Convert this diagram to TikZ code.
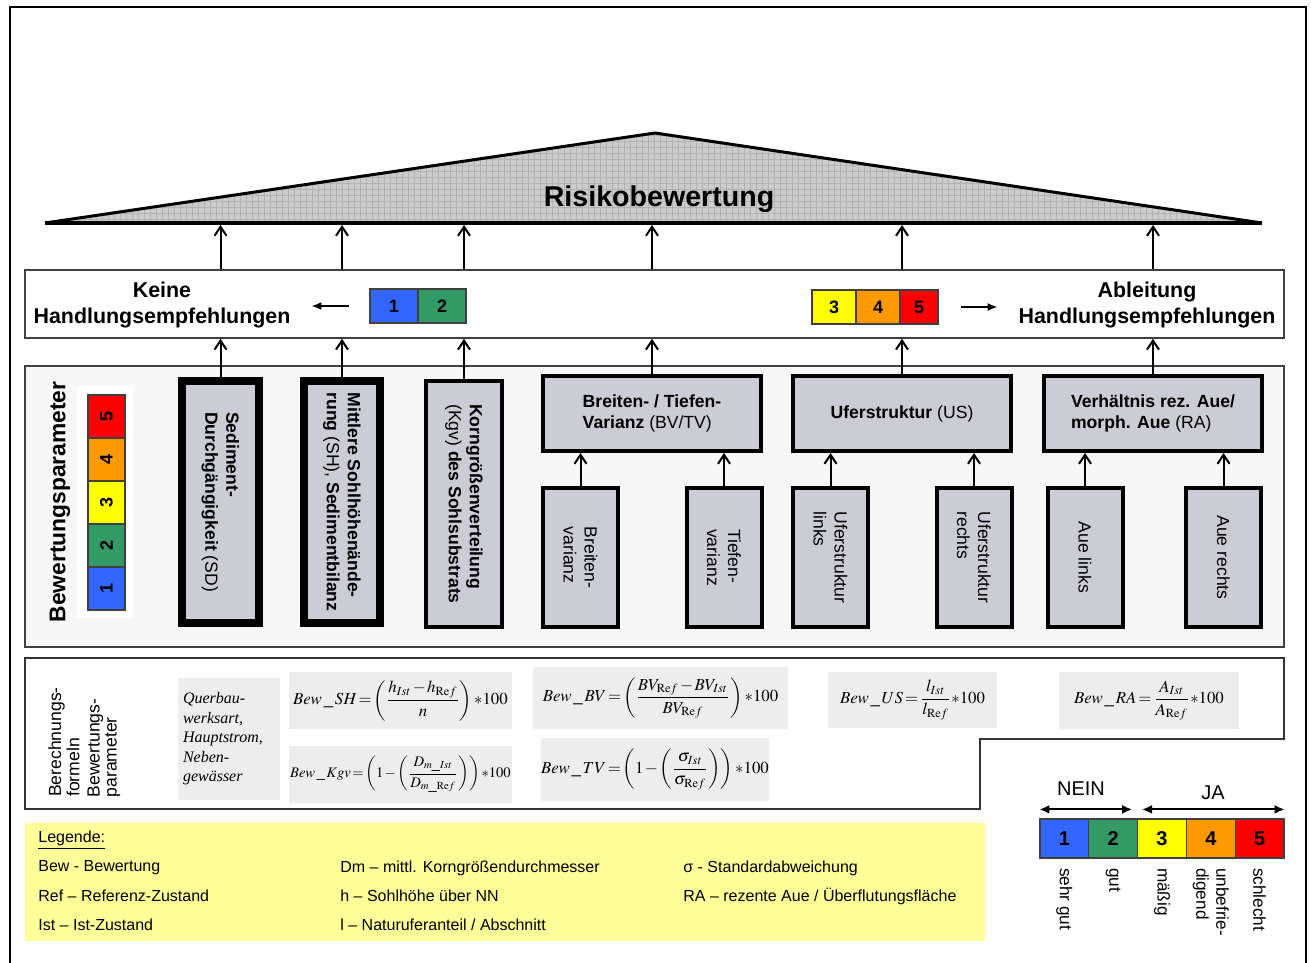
\documentclass[tikz,border=0pt]{standalone}
\usepackage{mathptmx}
\usepackage[no-math]{fontspec}
\setmainfont{Liberation Sans}
\newfontfamily\timesfont{Liberation Serif}
\usetikzlibrary{arrows.meta,patterns}

\definecolor{bwblue}{RGB}{51,102,255}
\definecolor{bwgreen}{RGB}{51,153,102}
\definecolor{bwyellow}{RGB}{255,255,0}
\definecolor{bworange}{RGB}{255,153,0}
\definecolor{bwred}{RGB}{255,0,0}
\definecolor{boxgray}{RGB}{204,204,212}
\definecolor{panelgray}{RGB}{247,247,247}
\definecolor{formgray}{RGB}{237,237,237}
\definecolor{legyellow}{RGB}{255,255,153}

\newcommand\tightmath{\thickmuskip=2mu\relax\medmuskip=1.5mu\relax}

\begin{document}
\begin{tikzpicture}[x=0.5pt,y=-0.5pt,
  pbox/.style={draw,fill=boxgray,line width=2pt,inner sep=0pt,font=\fontsize{8.8}{10.5}\selectfont},
  vtext/.style={rotate=-90,align=left,inner sep=0pt,font=\fontsize{8.8}{10.5}\selectfont},
  colcell/.style={draw=black!75,line width=.6pt,inner sep=0pt,font=\bfseries\fontsize{9}{9}\selectfont},
  formbox/.style={fill=formgray,inner sep=0pt,font=\fontsize{8.4}{10}\selectfont},
  leg/.style={anchor=west,inner sep=0pt,font=\fontsize{8}{9.6}\selectfont},
  uparrow/.style={-{Straight Barb[length=4.5pt,width=6pt]},line width=1pt},
  sidearrow/.style={-{Latex[length=5pt,width=4pt]},line width=.8pt},
  twoway/.style={{Latex[length=5pt,width=4.5pt]}-{Latex[length=5pt,width=4.5pt]},line width=1pt},
]
\useasboundingbox (0,0) rectangle (1311,963);

% frame
\draw[line width=1.3pt] (10,963) -- (10,7) -- (1306,7) -- (1306,963);

% roof
\coordinate (tl) at (45,223);
\coordinate (tt) at (655,133);
\coordinate (tr) at (1262,223);
\fill[black!20] (tl) -- (tt) -- (tr) -- cycle;
\fill[pattern=grid,pattern color=black!30] (tl) -- (tt) -- (tr) -- cycle;
\draw[line width=1.5pt,line join=round] (tl) -- (tt) -- (tr);
\draw[line width=2pt] (tl) -- (tr);
\node[font=\bfseries\fontsize{14.3}{16}\selectfont] (risk) at (659,199) {Risikobewertung};

% empfehlungen row
\node[draw=black!75,fill=white,line width=.8pt,minimum width=629.5pt,minimum height=34pt,inner sep=0pt] (empf) at (654.5,304) {};
\node[align=center,font=\bfseries\fontsize{10.7}{13}\selectfont] (keine) at (162,305) {Keine\\Handlungsempfehlungen};
\node[align=center,font=\bfseries\fontsize{10.7}{13}\selectfont] (ableit) at (1147,305) {Ableitung\\Handlungsempfehlungen};
\node[colcell,fill=bwblue,minimum width=24pt,minimum height=17pt] (r1) at (394,306) {1};
\node[colcell,fill=bwgreen,minimum width=24pt,minimum height=17pt] (r2) at (442,306) {2};
\node[colcell,fill=bwyellow,minimum width=22pt,minimum height=17pt] (r3) at (834,307) {3};
\node[colcell,fill=bworange,minimum width=22pt,minimum height=17pt] (r4) at (878,307) {4};
\node[colcell,fill=bwred,minimum width=19pt,minimum height=17pt] (r5) at (919,307) {5};
\draw[sidearrow,shorten <=10pt,shorten >=7pt] (r1.west) -- (keine.east |- r1.west);
\draw[sidearrow,shorten <=11pt,shorten >=7pt] (r5.east) -- (ableit.west |- r5.east);

% bewertungsparameter
\node[draw=black!75,fill=panelgray,line width=.8pt,minimum width=629.5pt,minimum height=140.5pt,inner sep=0pt] (panel) at (654.5,506.5) {};
\node[rotate=90,font=\bfseries\fontsize{11.4}{13}\selectfont] (bwp) at (60,502) {Bewertungsparameter};
\node[fill=white,minimum width=28pt,minimum height=116pt,inner sep=0pt] (scbg) at (105,502) {};
\foreach \i/\c in {1/bwblue,2/bwgreen,3/bwyellow,4/bworange,5/bwred}
  \node[colcell,fill=\c,rotate=90,minimum width=21.5pt,minimum height=18.5pt] (p\i) at (106.5,{610-43*(\i-0.5)}) {\i};

\node[pbox,line width=4pt,minimum width=38.5pt,minimum height=121pt] (sd) at (220.5,502) {};
\node[pbox,line width=4pt,minimum width=38pt,minimum height=121pt] (sh) at (342,502) {};
\node[pbox,minimum width=38pt,minimum height=123pt] (kgv) at (464,504) {};
\node[vtext] (sdt) at (sd) {\textbf{Sediment-}\\\textbf{Durchgängigkeit} (SD)};
\node[vtext] (sht) at (sh) {\textbf{Mittlere Sohlhöhenände-}\\\textbf{rung} (SH), \textbf{Sedimentbilanz}};
\node[vtext] (kgvt) at (kgv) {\textbf{Korngrößenverteilung}\\(Kgv) \textbf{des Sohlsubstrats}};

\node[pbox,align=left,minimum width=109pt,minimum height=37.5pt] (bv) at (652,413.5) {\textbf{Breiten- / Tiefen-}\\\textbf{Varianz} (BV/TV)};
\node[pbox,align=left,minimum width=109pt,minimum height=37.5pt] (us) at (902,413.5) {\textbf{Uferstruktur} (US)};
\node[pbox,align=left,minimum width=109pt,minimum height=37.5pt] (ra) at (1153,413.5) {\textbf{Verhältnis rez. Aue/}\\\textbf{morph. Aue} (RA)};

\foreach \n/\x in {bvb/580.5,tvb/724,usl/830.5,usr/974,ral/1085,rar/1223.5}
  \node[pbox,minimum width=37.5pt,minimum height=69.5pt] (\n) at (\x,557.5) {};
\node[vtext] (bvbt) at (bvb) {Breiten-\\varianz};
\node[vtext] (tvbt) at (tvb) {Tiefen-\\varianz};
\node[vtext] (uslt) at (usl) {Uferstruktur\\links};
\node[vtext] (usrt) at (usr) {Uferstruktur\\rechts};
\node[vtext] (ralt) at (ral) {Aue links};
\node[vtext] (rart) at (rar) {Aue rechts};

\foreach \a/\b in {bvb/bv,tvb/bv,usl/us,usr/us,ral/ra,rar/ra}
  \draw[uparrow] (\a.north) -- (\a.north |- \b.south);
\foreach \n in {sd,sh,kgv,bv,us,ra} {
  \draw[uparrow] (\n.north) -- (\n.north |- empf.south);
  \draw[uparrow,shorten >=1pt] (\n.north |- empf.north) -- (\n.north |- tl);
}

% formeln
\draw[black!80,line width=.8pt] (25,658) -- (1284,658) -- (1284,739) -- (980,739) -- (980,809) -- (25,809) -- cycle;
\node[rotate=90,align=left,inner sep=0pt,font=\fontsize{8.8}{7.5}\selectfont] (berech) at (64,742) {Berechnungs-\\formeln};
\node[rotate=90,align=left,inner sep=0pt,font=\fontsize{8.8}{7.5}\selectfont] (bewpar) at (104,748) {Bewertungs-\\parameter};
\node[formbox,text width=46pt,inner xsep=2.5pt,minimum height=61pt,align=left,font=\timesfont\itshape\fontsize{8}{9.75}\selectfont] (quer) at (229,739) {Querbau-\\werksart,\\Hauptstrom,\\Neben-\\gewässer};
\node[formbox,minimum width=111.5pt,minimum height=28.5pt] (fsh) at (400.5,700.5)
  {\tightmath$\displaystyle Bew\,\_\,SH=\left(\frac{h_{Ist}-h_{\mathrm{Re}f}}{n}\right){*}100$};
\node[formbox,minimum width=111.5pt,minimum height=28.5pt,font=\fontsize{7.3}{9}\selectfont] (fkgv) at (400.5,774.5)
  {\tightmath$\displaystyle Bew\,\_\,Kgv=\left(1-\left(\frac{D_{m\_Ist}}{D_{m\_\mathrm{Re}f}}\right)\right){*}100$};
\node[formbox,minimum width=127.5pt,minimum height=31pt] (fbv) at (660.5,698)
  {\tightmath$\displaystyle Bew\,\_\,BV=\left(\frac{BV_{\mathrm{Re}f}-BV_{Ist}}{BV_{\mathrm{Re}f}}\right){*}100$};
\node[formbox,minimum width=112pt,minimum height=31.5pt] (ftv) at (655,769.5)
  {\tightmath$\displaystyle Bew\,\_\,TV=\left(1-\left(\frac{\sigma_{Ist}}{\sigma_{\mathrm{Re}f}}\right)\right){*}100$};
\node[formbox,minimum width=84.5pt,minimum height=28pt] (fus) at (912.5,700)
  {\tightmath$\displaystyle Bew\,\_\,US=\frac{l_{Ist}}{l_{\mathrm{Re}f}}{*}100$};
\node[formbox,minimum width=90pt,minimum height=28.5pt] (fra) at (1149,700.5)
  {\tightmath$\displaystyle Bew\,\_\,RA=\frac{A_{Ist}}{A_{\mathrm{Re}f}}{*}100$};

% legende
\node[fill=legyellow,minimum width=480pt,minimum height=59pt,inner sep=0pt] (legbox) at (505,882) {};
\node[leg] (legh) at (38,840) {\underline{Legende:}};
\node[leg] (l1) at (38,868) {Bew - Bewertung};
\node[leg] (l2) at (38,896) {Ref – Referenz-Zustand};
\node[leg] (l3) at (38,925) {Ist – Ist-Zustand};
\node[leg] (l4) at (340,868) {Dm – mittl. Korngrößendurchmesser};
\node[leg] (l5) at (340,896) {h – Sohlhöhe über NN};
\node[leg] (l6) at (340,925) {l – Naturuferanteil / Abschnitt};
\node[leg] (l7) at (683,868) {σ - Standardabweichung};
\node[leg] (l8) at (683,896) {RA – rezente Aue / Überflutungsfläche};

% skala
\foreach \i/\c in {1/bwblue,2/bwgreen,3/bwyellow,4/bworange,5/bwred}
  \node[colcell,fill=\c,minimum width=24.4pt,minimum height=19.5pt,font=\bfseries\fontsize{10}{10}\selectfont] (s\i) at ({1040+48.8*(\i-0.5)},838.5) {\i};
\foreach \i/\t in {1/sehr gut,2/gut,3/mäßig,4/{unbefrie-\\digend},5/schlecht}
  \node[vtext,anchor=west,font=\fontsize{8.6}{10}\selectfont] (q\i) at ([yshift=-4.5pt]s\i.south) {\t};
\draw[twoway] ([yshift=4.5pt]s1.north west) -- ([yshift=4.5pt,xshift=-3pt]s2.north east);
\draw[twoway] ([yshift=4.5pt,xshift=2.5pt]s3.north west) -- ([yshift=4.5pt]s5.north east);
\node[font=\fontsize{10}{12}\selectfont] (nein) at (1081,789) {NEIN};
\node[font=\fontsize{10}{12}\selectfont] (ja) at (1213,793) {JA};
\end{tikzpicture}
\end{document}
